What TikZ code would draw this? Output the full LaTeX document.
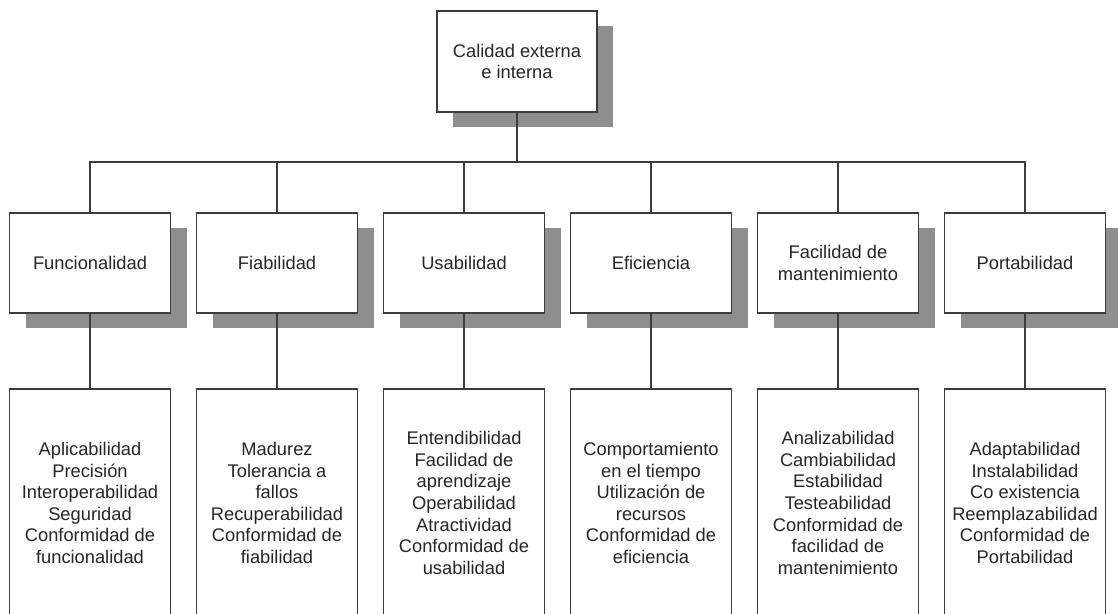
\documentclass[tikz,border=0pt]{standalone}
\usepackage{fontspec}
\setmainfont{Liberation Sans}
\usetikzlibrary{shadows}
\definecolor{linegray}{HTML}{3C3C3C}
\definecolor{shadegray}{HTML}{8E8E8E}
\definecolor{inkgray}{HTML}{262626}
\begin{document}
\begin{tikzpicture}[x=1pt,y=-1pt,
  every node/.style={font=\fontsize{18.3}{21.6}\selectfont, text=inkgray, align=center},
  conn/.style={draw=linegray, line width=1.6pt},
  headbox/.style={draw=linegray, line width=1.6pt, fill=white, minimum width=160pt, minimum height=100pt, inner sep=0pt,
    drop shadow={shadow xshift=16pt, shadow yshift=-15pt, fill=shadegray, opacity=1}},
  listbox/.style={draw=linegray, line width=1.6pt, fill=white, minimum width=161pt, minimum height=228pt, inner sep=0pt}]
\clip (0,0) rectangle (1118,613);
\fill[white] (0,0) rectangle (1118,613);

% root
\node[headbox, minimum height=101pt] (top) at (517,61.5) {Calidad externa\\e interna};
\coordinate (bus) at (517,162);

% characteristics
\node[headbox, minimum width=161pt] (m1) at (90,263) {Funcionalidad};
\node[headbox, minimum width=161pt] (m2) at (277,263) {Fiabilidad};
\node[headbox, minimum width=161pt] (m3) at (464,263) {Usabilidad};
\node[headbox, minimum width=161pt] (m4) at (651,263) {Eficiencia};
\node[headbox, minimum width=161pt] (m5) at (838,263) {Facilidad de\\mantenimiento};
\node[headbox, minimum width=161pt] (m6) at (1025,263) {Portabilidad};

% sub-characteristics
\node[listbox] (b1) at (90,503) {Aplicabilidad\\Precisión\\Interoperabilidad\\Seguridad\\Conformidad de\\funcionalidad};
\node[listbox] (b2) at (277,503) {Madurez\\Tolerancia a\\fallos\\Recuperabilidad\\Conformidad de\\fiabilidad};
\node[listbox] (b3) at (464,503) {Entendibilidad\\Facilidad de\\aprendizaje\\Operabilidad\\Atractividad\\Conformidad de\\usabilidad};
\node[listbox] (b4) at (651,503) {Comportamiento\\en el tiempo\\Utilización de\\recursos\\Conformidad de\\eficiencia};
\node[listbox] (b5) at (838,503) {Analizabilidad\\Cambiabilidad\\Estabilidad\\Testeabilidad\\Conformidad de\\facilidad de\\mantenimiento};
\node[listbox] (b6) at (1025,503) {Adaptabilidad\\Instalabilidad\\Co existencia\\Reemplazabilidad\\Conformidad de\\Portabilidad};

% connectors
\draw[conn] (top.south) -- (bus);
\draw[conn] (m1.north) |- (bus) -| (m6.north);
\foreach \i in {2,...,5} {
  \draw[conn] (m\i.north) -- (m\i.north |- bus);
}
\foreach \i in {1,...,6} {
  \draw[conn] (m\i.south) -- (b\i.north);
}
\end{tikzpicture}
\end{document}
